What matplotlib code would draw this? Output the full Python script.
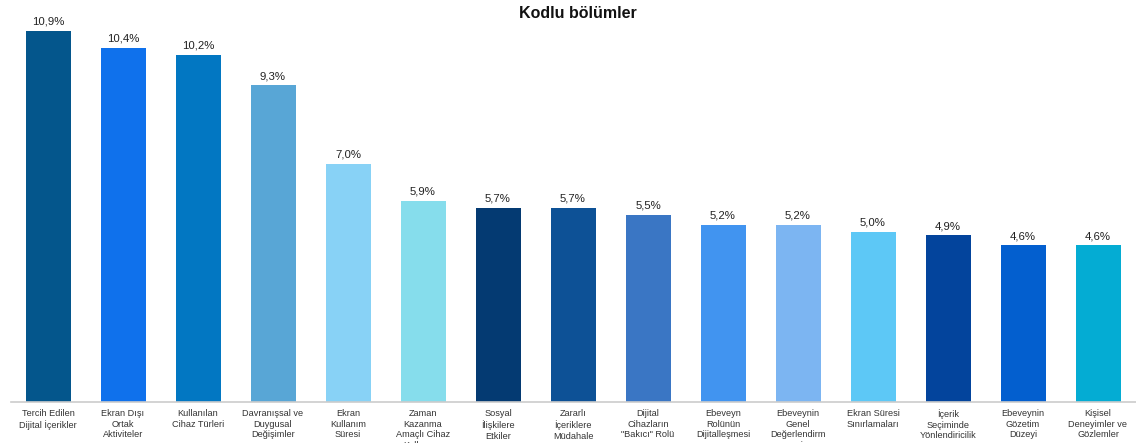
import matplotlib
matplotlib.use("Agg")
import matplotlib.pyplot as plt

plt.rcParams['font.family'] = ['Liberation Sans', 'DejaVu Sans']

categories = [
    "Tercih Edilen\nDijital İçerikler",
    "Ekran Dışı\nOrtak\nAktiviteler",
    "Kullanılan\nCihaz Türleri",
    "Davranışsal ve\nDuygusal\nDeğişimler",
    "Ekran\nKullanım\nSüresi",
    "Zaman\nKazanma\nAmaçlı Cihaz\nKullanımı",
    "Sosyal\nİlişkilere\nEtkiler",
    "Zararlı\nİçeriklere\nMüdahale",
    "Dijital\nCihazların\n\"Bakıcı\" Rolü",
    "Ebeveyn\nRolünün\nDijitalleşmesi",
    "Ebeveynin\nGenel\nDeğerlendirm\nesi",
    "Ekran Süresi\nSınırlamaları",
    "İçerik\nSeçiminde\nYönlendiricilik",
    "Ebeveynin\nGözetim\nDüzeyi",
    "Kişisel\nDeneyimler ve\nGözlemler",
]
values = [10.9, 10.4, 10.2, 9.3, 7.0, 5.9, 5.7, 5.7, 5.5, 5.2, 5.2, 5.0, 4.9, 4.6, 4.6]
colors = [
    "#04568C", "#0F71EC", "#0277C2", "#58A6D6", "#88D2F6",
    "#86DDEC", "#043A72", "#0D5196", "#3A76C4", "#4194F0",
    "#7CB5F2", "#5DC8F6", "#03449C", "#035FCF", "#04ACD3",
]
title = "Kodlu bölümler"

W, H = 1136, 443
fig = plt.figure(figsize=(W / 100, H / 100), dpi=100)
ax = fig.add_axes([10.5 / W, 41 / H, 1125 / W, 391.5 / H])

x = list(range(len(values)))
bars = ax.bar(x, values, width=0.6, color=colors, zorder=2)

for xi, v in zip(x, values):
    ax.annotate(f"{v:.1f}%".replace(".", ","), (xi, v), xytext=(0, 3),
                textcoords="offset points", ha="center", va="bottom",
                fontsize=8.2, color="#222222")

ax.set_xlim(-0.5, len(values) - 0.5)
ax.set_ylim(0, 11.5)
ax.set_xticks(x)
ax.set_xticklabels(categories, fontsize=6.6, color="#333333", linespacing=1.25)
ax.tick_params(axis="x", length=0, pad=5)
ax.set_yticks([])
for side in ("top", "right", "left"):
    ax.spines[side].set_visible(False)
ax.spines["bottom"].set_color("#cccccc")
ax.spines["bottom"].set_linewidth(1.2)

fig.text(578 / W, 1 - 14 / H, title, ha="center", va="center",
         fontsize=11.5, fontweight="bold", color="#111111")

fig.savefig("out.png", dpi=100, facecolor="white")
